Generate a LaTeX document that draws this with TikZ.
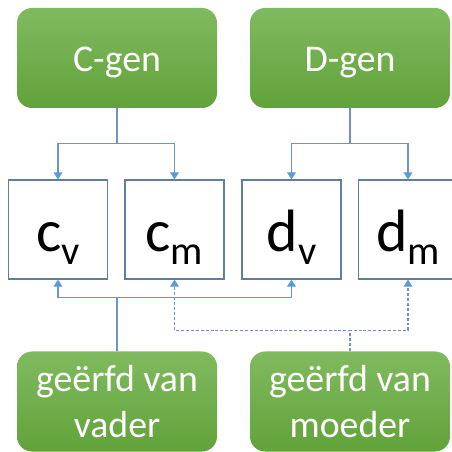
\documentclass[tikz,border=0pt]{standalone}
\usepackage{fontspec}
\setmainfont{Carlito}
\usetikzlibrary{arrows.meta,positioning}
\definecolor{gentop}{HTML}{80BA5F}
\definecolor{genbot}{HTML}{62A23A}
\definecolor{randblauw}{HTML}{5F7EA0}
\definecolor{lijnblauw}{HTML}{6F93C4}
\definecolor{pijlblauw}{HTML}{5B9BD5}
\newcommand{\onder}[1]{\raisebox{-0.22em}{\fontsize{23}{26}\selectfont #1}}
\tikzstyle{gen}=[rectangle, rounded corners=0.3cm, minimum width=4cm, minimum height=2cm, top color=gentop, bottom color=genbot, text=white, font=\fontsize{21.5}{26.5}\selectfont, align=center, inner sep=0pt]
\tikzstyle{allel}=[rectangle, draw=randblauw, line width=0.7pt, minimum size=1.98cm, inner sep=0pt, text height=0.88cm, text depth=0cm, font=\fontsize{34}{40}\selectfont]
\tikzstyle{pijl}=[-{Triangle[width=5pt,length=4pt,color=pijlblauw]}, draw=lijnblauw, line width=0.6pt]

\begin{document}
\begin{tikzpicture}

\useasboundingbox (0,0) rectangle (9.02,9.04);

% genen
\node[gen, text height=0.55cm, text depth=0cm] (cgen) at (2.34,7.88) {C-gen};
\node[gen, text height=0.55cm, text depth=0cm] (dgen) at (7.0,7.88) {D-gen};

% allelen
\node[allel] (cv) at (1.16,4.45) {c\onder{v}};
\node[allel] (cm) at (3.49,4.45) {c\onder{m}};
\node[allel] (dv) at (5.83,4.45) {d\onder{v}};
\node[allel] (dm) at (8.16,4.45) {d\onder{m}};

% ouders
\node[gen] (vader) at (2.34,1.01) {geërfd van\\vader};
\node[gen] (moeder) at (7.0,1.01) {geërfd van\\moeder};

% van gen naar allel
\draw[pijl] (cgen.south) -- ++(0,-0.7) -| (cv.north);
\draw[pijl] (cgen.south) -- ++(0,-0.7) -| (cm.north);
\draw[pijl] (dgen.south) -- ++(0,-0.7) -| (dv.north);
\draw[pijl] (dgen.south) -- ++(0,-0.7) -| (dm.north);

% van ouder naar allel
\draw[pijl] (vader.north) -- ++(0,1.08) -| (cv.south);
\draw[pijl] (vader.north) -- ++(0,1.08) -| (dv.south);
\draw[pijl, dash pattern=on 1.7pt off 1.1pt] (moeder.north) -- ++(0,0.42) -| (cm.south);
\draw[pijl, dash pattern=on 1.7pt off 1.1pt] (moeder.north) -- ++(0,0.42) -| (dm.south);

\end{tikzpicture}
\end{document}
